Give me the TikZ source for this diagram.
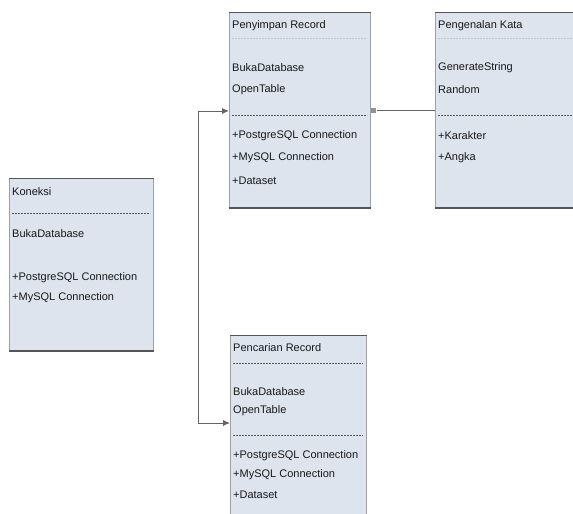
\documentclass[tikz,border=0pt]{standalone}
\usepackage{fontspec}
\setmainfont{Liberation Sans}
\usetikzlibrary{arrows.meta}
\definecolor{boxfill}{RGB}{221,228,238}
\definecolor{edgec}{RGB}{160,160,160}
\definecolor{shade}{RGB}{85,85,85}
\definecolor{linec}{RGB}{100,100,100}
\definecolor{txt}{RGB}{25,25,25}
\definecolor{faint}{RGB}{190,195,205}
\tikzset{
  classbox/.style={draw=edgec, fill=boxfill, line width=0.8pt, anchor=north west, inner sep=0pt},
  lbl/.style={anchor=west, inner sep=0pt, font=\fontsize{11}{13}\selectfont, text=txt},
  sepline/.style={draw=shade, dash pattern=on 2pt off 1pt, line width=0.7pt},
  faintsep/.style={draw=faint, dash pattern=on 2pt off 1pt, line width=0.6pt},
  edgetop/.style={draw=shade, line width=1pt},
  edgebot/.style={draw=shade, line width=2.2pt},
  conn/.style={draw=linec, line width=0.9pt},
  bothtips/.style={{Latex[length=7pt,width=6pt]}-{Latex[length=7pt,width=6pt]}},
  endsq/.style={fill=linec!70, draw=none, minimum size=5pt, inner sep=0pt}
}
\begin{document}
\begin{tikzpicture}[x=1pt,y=-1pt]
\useasboundingbox (0,0) rectangle (573,514);
\fill[white] (0,0) rectangle (573,514);

% --- boxes ---
\node[classbox, minimum width=141pt, minimum height=195pt] (pen) at (229,12) {};
\node[classbox, minimum width=145pt, minimum height=195pt] (kata) at (435,12) {};
\node[classbox, minimum width=144pt, minimum height=172pt] (kon) at (9,178) {};
\node[classbox, minimum width=136pt, minimum height=190pt] (pcr) at (230,335) {};

\foreach \b in {pen,kata,kon,pcr}{
  \draw[edgetop] (\b.north west) -- (\b.north east);
  \draw[edgebot] (\b.south west) -- (\b.south east);
}

% --- Penyimpan Record ---
\node[lbl] (pen1) at (232,26) {Penyimpan Record};
\draw[faintsep] (232,38) -- (367,38);
\node[lbl] (pen2) at (232,68) {BukaDatabase};
\node[lbl] (pen3) at (232,90) {OpenTable};
\draw[sepline] (232,115) -- (367,115);
\node[lbl] (pen4) at (232,136) {+PostgreSQL Connection};
\node[lbl] (pen5) at (232,158) {+MySQL Connection};
\node[lbl] (pen6) at (232,181) {+Dataset};

% --- Pengenalan Kata ---
\node[lbl] (kata1) at (438,26) {Pengenalan Kata};
\draw[faintsep] (438,38) -- (573,38);
\node[lbl] (kata2) at (438,68) {GenerateString};
\node[lbl] (kata3) at (438,90) {Random};
\draw[sepline] (438,115) -- (573,115);
\node[lbl] (kata4) at (438,136) {+Karakter};
\node[lbl] (kata5) at (438,158) {+Angka};

% --- Koneksi ---
\node[lbl] (kon1) at (12,192) {Koneksi};
\draw[sepline] (12,213) -- (150,213);
\node[lbl] (kon2) at (12,234) {BukaDatabase};
\node[lbl] (kon3) at (12,278) {+PostgreSQL Connection};
\node[lbl] (kon4) at (12,298) {+MySQL Connection};

% --- Pencarian Record ---
\node[lbl] (pcr1) at (233,348) {Pencarian Record};
\draw[sepline] (233,363) -- (363,363);
\node[lbl] (pcr2) at (233,392) {BukaDatabase};
\node[lbl] (pcr3) at (233,411) {OpenTable};
\draw[sepline] (233,435) -- (363,435);
\node[lbl] (pcr4) at (233,456) {+PostgreSQL Connection};
\node[lbl] (pcr5) at (233,475) {+MySQL Connection};
\node[lbl] (pcr6) at (233,495) {+Dataset};

% --- connectors ---
\coordinate (j1) at (198,111);
\coordinate (j2) at (198,423);
\draw[conn, bothtips] (pen.west |- j1) -- (j1) -- (j2) -- (pcr.west |- j2);

\coordinate (h) at (400,110);
\node[endsq] (sq) at ([xshift=3pt]pen.east |- h) {};
\draw[conn] (kata.west |- h) -- (sq);
\end{tikzpicture}
\end{document}
